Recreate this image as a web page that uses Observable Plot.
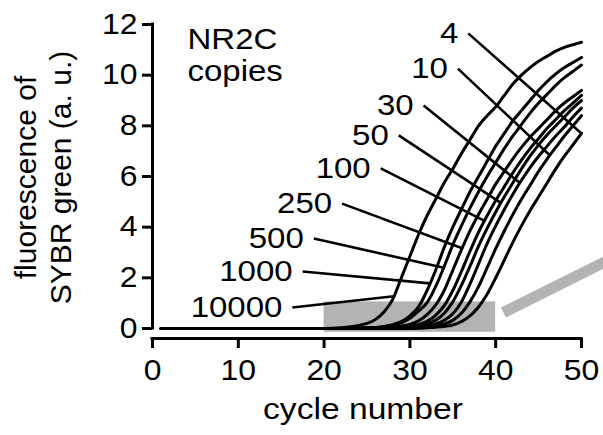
<!DOCTYPE html>
<html>
<head>
<meta charset="utf-8">
<script src="https://cdn.jsdelivr.net/npm/d3@7"></script>
<script src="https://cdn.jsdelivr.net/npm/@observablehq/plot@0.6"></script>
<style>
  html, body { margin: 0; padding: 0; background: #fff; }
</style>
</head>
<body>
<div id="chart"></div>
<script>
// Cycle numbers at which the fluorescence curves were read
const cycles = [1, 20, 22, 24, 25, 26, 27, 28, 29, 30, 31, 32, 33, 34, 35, 36, 37, 38, 39, 40, 41, 42, 43, 44, 45, 46, 47, 48, 49, 50];

// NR2C copies (curve labels)
const labels = ["10000", "1000", "500", "250", "100", "50", "30", "10", "4"];

// Fluorescence of SYBR green (a. u.), one array per copy number
const f10000 = [0, 0, 0.03, 0.12, 0.2, 0.36, 0.66, 1.15, 2.0, 2.85, 3.7, 4.45, 5.1, 5.75, 6.3, 6.9, 7.45, 8.0, 8.4, 8.75, 9.2, 9.65, 10.0, 10.3, 10.55, 10.75, 10.95, 11.1, 11.2, 11.3];
const f1000  = [0, 0, 0, 0.02, 0.03, 0.04, 0.08, 0.15, 0.27, 0.5, 0.85, 1.5, 2.3, 3.2, 4.0, 4.7, 5.4, 6.0, 6.6, 7.2, 7.7, 8.2, 8.6, 9.0, 9.4, 9.75, 10.05, 10.3, 10.5, 10.7];
const f500   = [0, 0, 0, 0.02, 0.03, 0.04, 0.07, 0.12, 0.22, 0.4, 0.68, 1.02, 1.65, 2.45, 3.3, 4.05, 4.75, 5.4, 6.0, 6.55, 7.1, 7.6, 8.05, 8.5, 8.9, 9.25, 9.6, 9.9, 10.15, 10.4];
const f250   = [0, 0, 0, 0, 0.01, 0.02, 0.03, 0.05, 0.09, 0.16, 0.3, 0.55, 0.92, 1.5, 2.3, 3.1, 3.85, 4.5, 5.1, 5.7, 6.2, 6.7, 7.15, 7.55, 7.9, 8.25, 8.6, 8.9, 9.15, 9.4];
const f100   = [0, 0, 0, 0, 0, 0.01, 0.02, 0.03, 0.05, 0.08, 0.15, 0.28, 0.52, 0.9, 1.5, 2.25, 3.05, 3.8, 4.45, 5.05, 5.6, 6.15, 6.65, 7.1, 7.5, 7.9, 8.25, 8.6, 8.9, 9.2];
const f50    = [0, 0, 0, 0, 0, 0, 0.01, 0.02, 0.03, 0.05, 0.09, 0.17, 0.32, 0.6, 1.05, 1.7, 2.45, 3.25, 3.95, 4.6, 5.2, 5.75, 6.3, 6.8, 7.25, 7.65, 8.0, 8.35, 8.7, 9.0];
const f30    = [0, 0, 0, 0, 0, 0, 0, 0.01, 0.02, 0.03, 0.05, 0.09, 0.17, 0.32, 0.58, 1.05, 1.75, 2.55, 3.35, 4.05, 4.7, 5.3, 5.85, 6.35, 6.8, 7.2, 7.6, 7.95, 8.35, 8.7];
const f10    = [0, 0, 0, 0, 0, 0, 0, 0, 0.01, 0.02, 0.03, 0.05, 0.09, 0.17, 0.32, 0.6, 1.05, 1.65, 2.4, 3.15, 3.85, 4.5, 5.1, 5.65, 6.2, 6.7, 7.15, 7.6, 8.0, 8.4];
const f4     = [0, 0, 0, 0, 0, 0, 0, 0, 0, 0, 0.01, 0.03, 0.05, 0.08, 0.14, 0.27, 0.5, 0.85, 1.35, 2.0, 2.7, 3.4, 4.05, 4.65, 5.2, 5.75, 6.3, 6.8, 7.25, 7.7];
const series = [f10000, f1000, f500, f250, f100, f50, f30, f10, f4];

// Label anchor (start of leader line) and the point on the curve it points to
const labelCycle = [16.3, 17.5, 18.8, 22.1, 26.6, 28.7, 31.6, 35.6, 36.8];
const labelValue = [0.83, 2.25, 3.55, 4.93, 6.32, 7.62, 8.8, 10.26, 11.65];
const leaderEndCycle = [28.15, 32.35, 33.95, 36.1, 38.7, 40.6, 42.8, 46.3, 50];
const leaderEndValue = [1.27, 1.78, 2.4, 3.17, 4.25, 4.96, 5.75, 6.84, 7.7];

// Axis ticks
const xTicks = [0, 10, 20, 30, 40, 50];
const yTicks = [0, 2, 4, 6, 8, 10, 12];

// Highlighted region (cycles 20–40, low fluorescence) and its zoom pointer
const regionX = [20, 40];
const regionY = [-0.15, 1.05];
const pointerX = [40.9, 53.5];
const pointerY = [0.63, 2.76];

const table = series.flatMap((s, k) => cycles.map((c, i) => ({cycle: c, value: s[i], copies: labels[k]})));

const yBottom = -0.395; // x-axis sits a little below zero

const svg = Plot.plot({
  width: 603,
  height: 435,
  marginLeft: 152,
  marginRight: 22,
  marginTop: 24,
  marginBottom: 97,
  style: {fontFamily: "'Liberation Sans', Arial, sans-serif", fontSize: "29px", background: "#fff", color: "#000"},
  x: {domain: [0, 50]},
  y: {domain: [yBottom, 12]},
  marks: [
    Plot.rect([0], {x1: regionX[0], x2: regionX[1], y1: regionY[0], y2: regionY[1], fill: "#b3b3b3"}),
    Plot.link([0], {x1: pointerX[0], y1: pointerY[0], x2: pointerX[1], y2: pointerY[1], stroke: "#b3b3b3", strokeWidth: 11}),
    Plot.line(table, {x: "cycle", y: "value", z: "copies", curve: "monotone-x", stroke: "#000", strokeWidth: 3, strokeLinejoin: "round"}),
    Plot.link(labels, {x1: labelCycle, y1: labelValue, x2: leaderEndCycle, y2: leaderEndValue, stroke: "#000", strokeWidth: 2.6}),
    Plot.text(labels, {x: labelCycle, y: labelValue, text: (d) => d, textAnchor: "end", dx: -10, fontSize: 30}),
    Plot.ruleX([0], {y1: 0, y2: 12, strokeWidth: 3, strokeLinecap: "square"}),
    Plot.ruleY([yBottom], {x1: 0, x2: 50, strokeWidth: 3, strokeLinecap: "square"}),
    Plot.axisY({ticks: yTicks, tickSize: 10, tickPadding: 5, strokeWidth: 3, label: null}),
    Plot.axisX({ticks: xTicks, tickSize: 10, tickPadding: 11, strokeWidth: 3, label: null}),
    Plot.text(["fluorescence of"], {frameAnchor: "left", textAnchor: "middle", lineAnchor: "middle", rotate: -90, dx: -126, dy: -4, fontSize: 30}),
    Plot.text(["SYBR green (a. u.)"], {frameAnchor: "left", textAnchor: "middle", lineAnchor: "middle", rotate: -90, dx: -91, dy: -4, fontSize: 30}),
    Plot.text(["cycle number"], {frameAnchor: "bottom", textAnchor: "middle", dx: -4, dy: 80, fontSize: 29}),
    Plot.text(["NR2C\ncopies"], {frameAnchor: "top-left", textAnchor: "start", lineAnchor: "top", dx: 35, dy: 2, fontSize: 30, lineHeight: 1.07})
  ]
});

// The reference type is slightly wide: stretch horizontal text about its anchor
svg.querySelectorAll("text").forEach((t) => {
  const tr = t.getAttribute("transform");
  if (!tr || tr.includes("rotate")) return;
  const label = t.parentNode.getAttribute("aria-label") || "";
  const s = t.textContent === "cycle number" ? 1.16 : 1.1;
  t.setAttribute("transform", tr + ` scale(${s},1)`);
});

document.getElementById("chart").appendChild(svg);
</script>
</body>
</html>
